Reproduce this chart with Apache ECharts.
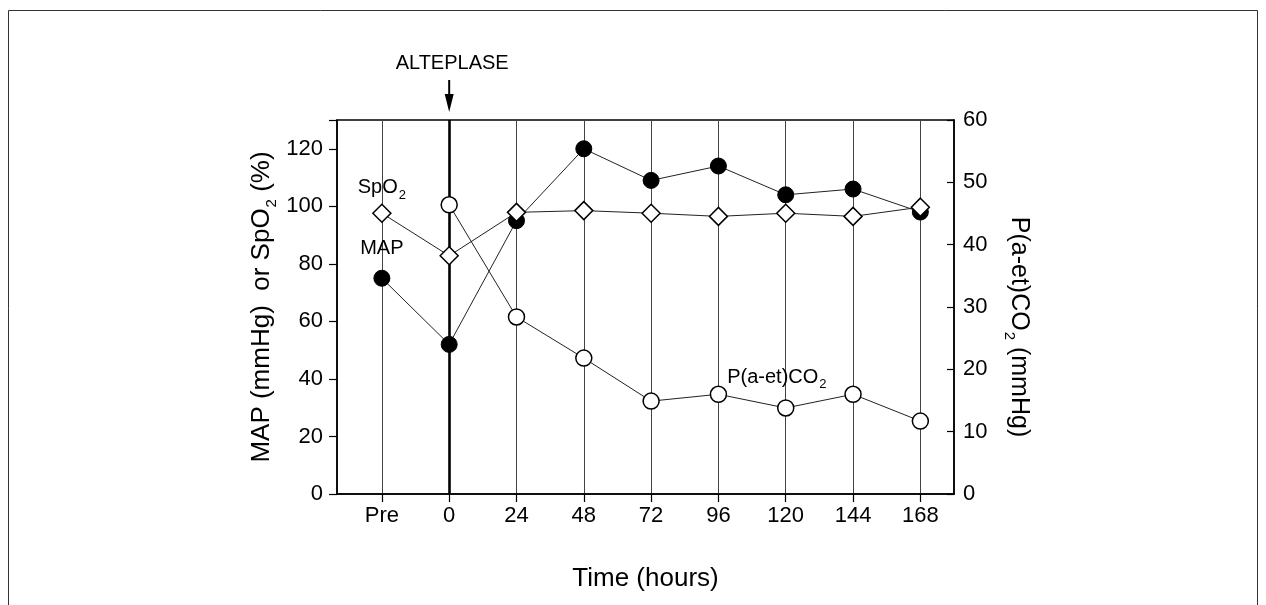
<!DOCTYPE html>
<html><head><meta charset="utf-8">
<script src="https://cdn.jsdelivr.net/npm/echarts@6/dist/echarts.min.js"></script>
<style>html,body{margin:0;padding:0;background:#fff}#c{width:1266px;height:605px}</style>
</head><body><div id="c"></div>
<script>
// ---- data ----
const timeLabels = ['Pre', '0', '24', '48', '72', '96', '120', '144', '168'];
const timeHours  = [-24, 0, 24, 48, 72, 96, 120, 144, 168];   // "Pre" sits one step before 0
const mapValues  = [75, 52, 95, 120, 109, 114, 104, 106, 98];           // MAP (mmHg), left axis
const spo2Values = [97.6, 82.8, 97.9, 98.5, 97.6, 96.5, 97.6, 96.5, 99.7]; // SpO2 (%), left axis
const pco2Values = [null, 46.4, 28.4, 21.8, 14.9, 16.0, 13.8, 16.0, 11.7]; // P(a-et)CO2 (mmHg), right axis
const leftTicks  = [0, 20, 40, 60, 80, 100, 120];
const rightTicks = [0, 10, 20, 30, 40, 50, 60];
const eventHour  = '0';
const eventText  = 'ALTEPLASE';

const FONT = '"Liberation Sans", Arial, Helvetica, sans-serif';
const BLACK = '#000';

// fine-grained time slots (every 4 h) so that "Pre" and the plot margins fall where they do in the figure
const axisSlots = [];
for (let h = -40; h <= 180; h += 4) axisSlots.push(String(h));
const labelOf = {};
timeHours.forEach((h, i) => { labelOf[String(h)] = timeLabels[i]; });
const isTime = (idx, val) => labelOf[val] !== undefined;
const toPairs = vals => vals.map((v, i) => [String(timeHours[i]), v]).filter(p => p[1] != null);

const subRich = (size) => ({ sub: { fontSize: size, fontFamily: FONT, color: BLACK, verticalAlign: 'bottom', padding: [0, 0, -4, 1] } });

const chart = echarts.init(document.getElementById('c'), null, { renderer: 'canvas' });

const mapData = toPairs(mapValues).map((p, i) => i === 0 ? {
  value: p,
  label: { show: true, position: 'top', distance: 11, formatter: 'MAP', fontSize: 20, fontFamily: FONT, color: BLACK }
} : p);

const spo2Data = toPairs(spo2Values).map((p, i) => i === 0 ? {
  value: p,
  label: { show: true, position: 'top', distance: 6, formatter: 'SpO{sub|2}', fontSize: 20, fontFamily: FONT, color: BLACK, rich: subRich(13) }
} : p);

const pco2Pairs = toPairs(pco2Values);
const pco2Data = pco2Pairs.map(p => p[0] === '96' ? {
  value: p,
  label: { show: true, position: 'right', distance: 0, offset: [0, -17], formatter: 'P(a-et)CO{sub|2}', fontSize: 20, fontFamily: FONT, color: BLACK, rich: subRich(13) }
} : p);

const option = {
  backgroundColor: '#fff',
  animation: false,
  textStyle: { fontFamily: FONT, color: BLACK },
  grid: { left: 337, right: 312, top: 120, bottom: 111, show: true, borderColor: BLACK, borderWidth: 1.5, backgroundColor: 'transparent' },
  xAxis: {
    type: 'category',
    data: axisSlots,
    boundaryGap: false,
    axisLine: { show: true, lineStyle: { color: BLACK, width: 1.5 } },
    axisTick: { show: true, interval: isTime, length: 8, lineStyle: { color: BLACK, width: 1.2 } },
    axisLabel: { interval: isTime, formatter: v => labelOf[v] || '', margin: 11, fontSize: 22, color: BLACK, fontFamily: FONT },
    splitLine: { show: true, interval: isTime, lineStyle: { color: '#444', width: 1 } },
    name: 'Time (hours)', nameLocation: 'middle', nameGap: 72,
    nameTextStyle: { fontSize: 26, color: BLACK, fontFamily: FONT }
  },
  yAxis: [{
    type: 'value', position: 'left', min: 0, max: 130, interval: 20,
    axisLine: { show: true, lineStyle: { color: BLACK, width: 1.5 } },
    axisTick: { show: true, length: 8, lineStyle: { color: BLACK, width: 1.2 } },
    axisLabel: { margin: 14, fontSize: 22, color: BLACK, fontFamily: FONT, formatter: v => leftTicks.includes(v) ? String(v) : '' },
    splitLine: { show: false },
    name: 'MAP (mmHg)  or SpO{sub|2} (%)', nameLocation: 'middle', nameGap: 62,
    nameTextStyle: { fontSize: 26, color: BLACK, fontFamily: FONT, rich: subRich(15) }
  }, {
    type: 'value', position: 'right', min: 0, max: 60, interval: 10,
    axisLine: { show: true, lineStyle: { color: BLACK, width: 1.5 } },
    axisTick: { show: true, inside: true, length: 7, lineStyle: { color: BLACK, width: 1.2 } },
    axisLabel: { margin: 9, fontSize: 22, color: BLACK, fontFamily: FONT, formatter: v => rightTicks.includes(v) ? String(v) : '' },
    splitLine: { show: false },
    name: 'P(a-et)CO{sub|2} (mmHg)', nameLocation: 'middle', nameGap: 52, nameRotate: -90,
    nameTextStyle: { fontSize: 25, color: BLACK, fontFamily: FONT, rich: subRich(15), padding: [0, 0, 0, 40] }
  }],
  series: [{
    name: 'MAP', type: 'line', yAxisIndex: 0, z: 3,
    data: mapData,
    symbol: 'circle', symbolSize: 16,
    lineStyle: { color: '#222', width: 1 },
    itemStyle: { color: BLACK, borderColor: BLACK, borderWidth: 1 },
    markLine: {
      silent: true, symbol: ['none', 'none'], label: { show: false },
      lineStyle: { color: BLACK, width: 2.6, type: 'solid' },
      data: [{ xAxis: axisSlots.indexOf(eventHour) }]
    }
  }, {
    name: 'P(a-et)CO2', type: 'line', yAxisIndex: 1, z: 5,
    data: pco2Data,
    symbol: 'circle', symbolSize: 16,
    lineStyle: { color: '#222', width: 1 },
    itemStyle: { color: '#fff', borderColor: BLACK, borderWidth: 1.5 }
  }, {
    name: 'SpO2', type: 'line', yAxisIndex: 0, z: 6,
    data: spo2Data,
    symbol: 'diamond', symbolSize: [18, 18],
    lineStyle: { color: '#222', width: 1 },
    itemStyle: { color: '#fff', borderColor: BLACK, borderWidth: 1.5 }
  }]
};
chart.setOption(option);

// event annotation (arrow + text) anchored to the event time on the axis
const x0 = chart.convertToPixel({ xAxisIndex: 0 }, axisSlots.indexOf(eventHour));
const yTop = chart.convertToPixel({ yAxisIndex: 0 }, 130);
chart.setOption({
  graphic: [
    { type: 'rect', z: -10, shape: { x: 8.5, y: 10.5, width: 1249, height: 640 }, style: { fill: 'none', stroke: '#333', lineWidth: 1 } },
    { type: 'line', shape: { x1: x0, y1: yTop - 40, x2: x0, y2: yTop - 24 }, style: { stroke: BLACK, lineWidth: 2 } },
    { type: 'polygon', shape: { points: [[x0 - 4.5, yTop - 26], [x0 + 4.5, yTop - 26], [x0, yTop - 8]] }, style: { fill: BLACK } },
    { type: 'text', x: x0 + 3, y: yTop - 57, style: { text: eventText, fontSize: 20, fontFamily: FONT, fill: BLACK, align: 'center', verticalAlign: 'middle' } }
  ]
});
</script>
</body></html>
